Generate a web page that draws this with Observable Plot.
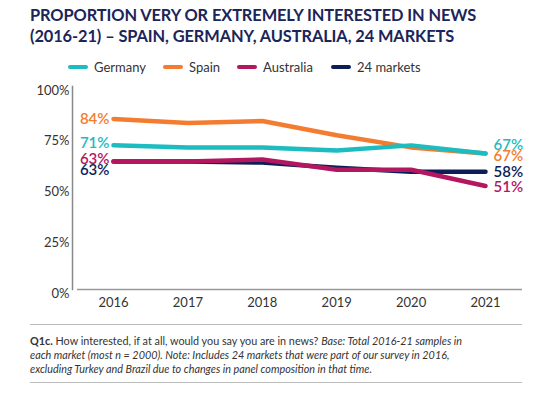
<!DOCTYPE html>
<html>
<head>
<meta charset="utf-8">
<script src="https://cdn.jsdelivr.net/npm/d3@7"></script>
<script src="https://cdn.jsdelivr.net/npm/@observablehq/plot@0.6"></script>
<style>
  html, body { margin: 0; padding: 0; background: #fff; }
  body { width: 558px; height: 394px; position: relative; overflow: hidden; font-family: Lato, "Open Sans", sans-serif; }
  #title { position: absolute; left: 30px; top: 4px; font-size: 16.4px; font-weight: 700; color: #1b2559; line-height: 21px; letter-spacing: -0.1px; }
  #legend { position: absolute; left: 68px; top: 59px; font-size: 13px; color: #333; }
  .item { display: flex; align-items: center; position: absolute; white-space: nowrap; top: 0; }
  .sw { width: 20px; height: 4px; border-radius: 2px; margin-right: 6px; }
  #chart { position: absolute; left: 0; top: 78px; }
  #foot { position: absolute; left: 30px; top: 324px; width: 492px; height: 57px; border-top: 1.5px solid #bbb; border-bottom: 1.5px solid #bbb; }
  #foot p { margin: 9px 0 0 0; width: 440px; font-size: 10.8px; line-height: 14px; color: #333; }
</style>
</head>
<body>
<div id="title">PROPORTION VERY OR EXTREMELY INTERESTED IN NEWS<br>(2016-21) – SPAIN, GERMANY, AUSTRALIA, 24 MARKETS</div>
<div id="legend"></div>
<div id="chart"></div>
<div id="foot"><p><b>Q1c.</b> How interested, if at all, would you say you are in news? <i>Base: Total 2016-21 samples in each market (most n = 2000). Note: Includes 24 markets that were part of our survey in 2016, excluding Turkey and Brazil due to changes in panel composition in that time.</i></p></div>
<script>
const years = [2016, 2017, 2018, 2019, 2020, 2021];
const seriesNames = ["Germany", "Spain", "Australia", "24 markets"];
const colors = ["#1cbcc0", "#f47c30", "#b3175f", "#0e1d57"];
const germany = [71, 70, 70, 68.5, 71, 67];
const spain = [84, 82, 83, 76, 70, 67];
const australia = [63, 63, 64, 59, 59, 51];
const markets24 = [63, 63, 62.5, 60, 58, 58];
const yTicks = [0, 25, 50, 75, 100];

const valuesBySeries = [germany, spain, australia, markets24];
const rows = [];
seriesNames.forEach((s, i) => years.forEach((y, j) => rows.push({series: s, year: y, value: valuesBySeries[i][j]})));
const drawOrder = ["24 markets", "Australia", "Spain", "Germany"];
const color = {domain: seriesNames, range: colors};

// layout nudges for end labels (to avoid overlaps), in px
const startDy = {"Germany": -2, "Spain": 0, "Australia": -2, "24 markets": 9};
const endDy = {"Germany": -8, "Spain": 3, "Australia": 1, "24 markets": 0};
const startLabels = seriesNames.map((s, i) => ({series: s, year: years[0], value: valuesBySeries[i][0]}));
const endLabels = seriesNames.map((s, i) => ({series: s, year: years[years.length-1], value: valuesBySeries[i][years.length-1]}));

// legend
const leg = document.getElementById("legend");
const legStarts = [0, 95, 169, 263];
seriesNames.forEach((s, i) => {
  const d = document.createElement("div");
  d.className = "item";
  d.style.left = legStarts[i] + "px";
  d.innerHTML = `<span class="sw" style="background:${colors[i]}"></span><span>${s}</span>`;
  leg.appendChild(d);
});

const labelMarks = [];
seriesNames.forEach(s => {
  labelMarks.push(Plot.text(startLabels.filter(d => d.series === s), {x: "year", y: "value", text: d => d.value + "%", fill: "series", textAnchor: "end", dx: -4, dy: startDy[s], fontSize: 15, fontWeight: 600}));
  labelMarks.push(Plot.text(endLabels.filter(d => d.series === s), {x: "year", y: "value", text: d => d.value + "%", fill: "series", textAnchor: "start", dx: 8, dy: endDy[s], fontSize: 15, fontWeight: 600}));
});

const plot = Plot.plot({
  width: 558,
  height: 240,
  marginLeft: 72,
  marginRight: 36,
  marginTop: 8,
  marginBottom: 29,
  style: {fontFamily: "Lato, 'Open Sans', sans-serif", background: "transparent"},
  x: {type: "linear", domain: [2016, 2021], range: [113, 485]},
  y: {domain: [0, 100], range: [211, 8]},
  color,
  marks: [
    Plot.axisY({ticks: yTicks, tickSize: 0, tickPadding: 3, dy: 4, tickFormat: d => d + "%", fontSize: 13, fill: "#333", label: null}),
    Plot.axisX({ticks: years, tickSize: 0, tickPadding: 8, tickFormat: d => String(d), fontSize: 13, fill: "#333", label: null}),
    Plot.frame({anchor: "left", stroke: "#888", strokeWidth: 1.5}),
    Plot.ruleY([0], {stroke: "#999", strokeWidth: 1.5, insetLeft: 5}),
    ...drawOrder.map(s => Plot.line(rows.filter(d => d.series === s), {x: "year", y: "value", stroke: "series", strokeWidth: 4.5, strokeLinecap: "round", strokeLinejoin: "round"})),
    ...labelMarks
  ]
});
document.getElementById("chart").appendChild(plot);
</script>
</body>
</html>
